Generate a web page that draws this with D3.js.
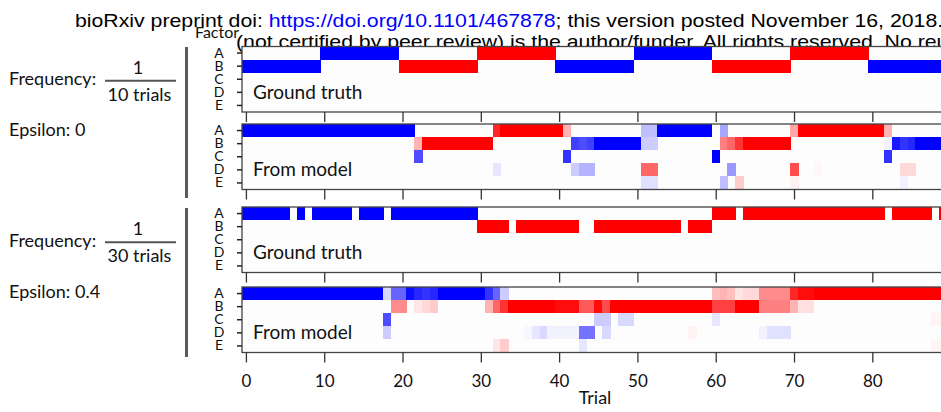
<!DOCTYPE html>
<html>
<head>
<meta charset="utf-8">
<script src="https://cdn.jsdelivr.net/npm/d3@7"></script>
<style>
  body { margin: 0; background: #fff; }
  svg { display: block; }
</style>
</head>
<body>
<svg id="chart" width="941" height="412"></svg>
<script>
// ---- data -------------------------------------------------------------
const factors = ["A", "B", "C", "D", "E"];
const xTickValues = [0, 10, 20, 30, 40, 50, 60, 70, 80, 90];
const trialDomain = [-0.5, 99.5];

// Factor activity runs: [factor, first trial, last trial, value]
// value -1 = full blue, +1 = full red, 0 = empty.
const truthFreq10 = [
  ["B", 0, 9, -1], ["A", 10, 19, -1], ["B", 20, 29, 1], ["A", 30, 39, 1],
  ["B", 40, 49, -1], ["A", 50, 59, -1], ["B", 60, 69, 1], ["A", 70, 79, 1],
  ["B", 80, 89, -1]
];
const modelFreq10 = [
  ["A", 0, 21, -1], ["A", 32, 32, 0.85], ["A", 33, 40, 1], ["A", 41, 41, 0.3],
  ["A", 51, 52, -0.25], ["A", 53, 59, -1], ["A", 61, 61, -0.35],
  ["A", 70, 70, 0.35], ["A", 71, 81, 1], ["A", 82, 82, 0.3],
  ["B", 22, 22, 0.3], ["B", 23, 31, 1], ["B", 42, 42, -0.75], ["B", 43, 43, -0.7],
  ["B", 44, 44, -0.75], ["B", 45, 50, -1], ["B", 51, 52, -0.2],
  ["B", 61, 61, 0.5], ["B", 62, 62, 0.6], ["B", 63, 63, 0.8], ["B", 64, 69, 1],
  ["B", 82, 82, -0.05], ["B", 83, 83, -0.9], ["B", 84, 84, -0.8],
  ["B", 85, 85, -0.85], ["B", 86, 89, -1],
  ["C", 22, 22, -0.7], ["C", 41, 41, -0.8], ["C", 60, 60, -1], ["C", 82, 82, -0.8],
  ["D", 32, 32, -0.1], ["D", 42, 42, -0.2], ["D", 43, 44, -0.3], ["D", 51, 52, 0.6],
  ["D", 62, 62, -0.4], ["D", 70, 70, 0.7], ["D", 73, 73, 0.03], ["D", 84, 85, 0.15],
  ["E", 51, 52, -0.12], ["E", 61, 61, -0.25], ["E", 63, 63, 0.2],
  ["E", 70, 70, 0.05], ["E", 84, 84, -0.05]
];
const truthFreq30 = [
  ["A", 0, 5, -1], ["A", 7, 7, -1], ["A", 9, 13, -1], ["A", 15, 17, -1],
  ["A", 19, 29, -1], ["A", 60, 62, 1], ["A", 64, 81, 1], ["A", 83, 87, 1],
  ["A", 89, 89, 1],
  ["B", 30, 33, 1], ["B", 35, 42, 1], ["B", 45, 55, 1], ["B", 57, 59, 1]
];
const modelFreq30 = [
  ["A", 0, 17, -1], ["A", 18, 18, -0.15], ["A", 19, 20, -0.6], ["A", 21, 21, -0.95],
  ["A", 22, 22, -0.85], ["A", 23, 23, -0.8], ["A", 24, 24, -0.85], ["A", 25, 30, -1],
  ["A", 31, 31, -0.8], ["A", 32, 32, -0.6], ["A", 33, 33, -0.2],
  ["A", 60, 60, 0.25], ["A", 61, 61, 0.3], ["A", 62, 62, 0.25], ["A", 63, 63, 0.1],
  ["A", 64, 65, 0.15], ["A", 66, 69, 0.45], ["A", 70, 70, 0.85], ["A", 71, 72, 0.95],
  ["A", 73, 89, 1],
  ["B", 19, 20, 0.45], ["B", 22, 22, 0.1], ["B", 23, 23, 0.15], ["B", 24, 24, 0.2],
  ["B", 31, 31, 0.3], ["B", 32, 32, 0.6], ["B", 33, 33, 0.8], ["B", 34, 39, 1],
  ["B", 40, 42, 0.95], ["B", 43, 44, 0.65], ["B", 45, 45, 0.95], ["B", 46, 46, 0.7],
  ["B", 47, 59, 1], ["B", 60, 62, 0.75], ["B", 63, 65, 1], ["B", 66, 69, 0.5],
  ["B", 70, 70, 0.3], ["B", 71, 72, 0.12],
  ["C", 18, 18, -0.7], ["C", 45, 46, -0.2], ["C", 48, 49, -0.15], ["C", 60, 60, -0.1],
  ["C", 88, 89, 0.04],
  ["D", 18, 18, -0.2], ["D", 36, 36, -0.03], ["D", 37, 37, -0.1], ["D", 38, 38, -0.15],
  ["D", 39, 42, -0.05], ["D", 43, 44, -0.55], ["D", 46, 46, -0.15], ["D", 57, 57, 0.05],
  ["D", 66, 66, -0.05], ["D", 67, 69, -0.12],
  ["E", 32, 32, 0.1], ["E", 33, 33, 0.2], ["E", 43, 43, -0.1], ["E", 88, 89, 0.04]
];

const panelData = [truthFreq10, modelFreq10, truthFreq30, modelFreq30];
const panelLabels = ["Ground truth", "From model", "Ground truth", "From model"];
const frequencyDenominators = ["10 trials", "30 trials"];
const epsilonLabels = ["Epsilon: 0", "Epsilon: 0.4"];
const headerLink = "https://doi.org/10.1101/467878";

// ---- layout -----------------------------------------------------------
const svg = d3.select("#chart");
const plotLeft = 242, trialStep = 7.83;
const panelTops = [46.5, 124, 207, 287];
const panelHeight = 65.5;

const x = d3.scaleLinear()
  .domain(trialDomain)
  .range([plotLeft, plotLeft + (trialDomain[1] - trialDomain[0]) * trialStep]);
const color = d3.scaleLinear()
  .domain([-1, 0, 1])
  .range(["#0000ff", "#ffffff", "#ff0000"]);

const sansUI = "Lato, 'Open Sans', sans-serif";

// ---- header ---------------------------------------------------------
const header = svg.append("g");
const line1 = header.append("text")
  .attr("font-family", "'Liberation Sans', Arial, sans-serif")
  .attr("font-size", 18)
  .attr("fill", "#000");
line1.append("tspan").text("bioRxiv preprint doi: ");
line1.append("tspan").attr("fill", "#0000ff").text(headerLink);
line1.append("tspan").text("; this version posted November 16, 2018. The copyright holder for this preprint (which was");
// stretch so that "...2018" ends at the page edge
const probe = svg.append("text")
  .attr("font-family", "'Liberation Sans', Arial, sans-serif")
  .attr("font-size", 18)
  .text("bioRxiv preprint doi: " + headerLink + "; this version posted November 16, 2018");
const sx = 863 / probe.node().getComputedTextLength();
probe.remove();
line1.attr("transform", `translate(75,27) scale(${sx},1)`);

header.append("text")
  .attr("font-family", "'Liberation Sans', Arial, sans-serif")
  .attr("font-size", 18)
  .attr("transform", `translate(236,48) scale(${sx},1)`)
  .text("(not certified by peer review) is the author/funder. All rights reserved. No reuse allowed without permission.");

svg.append("text")
  .attr("x", 195).attr("y", 37.5)
  .attr("font-family", sansUI)
  .attr("font-size", 16)
  .attr("fill", "#111")
  .text("Factor");

// ---- panels -----------------------------------------------------------
panelData.forEach((runs, i) => {
  const top = panelTops[i];
  const y = d3.scaleBand().domain(factors).range([top, top + panelHeight]);
  const g = svg.append("g");

  g.append("rect")
    .attr("x", plotLeft).attr("y", top)
    .attr("width", x(trialDomain[1]) - plotLeft).attr("height", panelHeight)
    .attr("fill", "#fdfdfd");

  // expand each run into one cell per trial
  const cells = runs.flatMap(([f, a, b, v]) =>
    d3.range(a, b + 1).map(t => ({ f, t, v })));

  g.selectAll("rect.cell")
    .data(cells)
    .join("rect")
    .attr("class", "cell")
    .attr("x", d => x(d.t - 0.5))
    .attr("y", d => y(d.f))
    .attr("width", x(1) - x(0) + 0.6)
    .attr("height", y.bandwidth())
    .attr("shape-rendering", "crispEdges")
    .attr("fill", d => color(d.v));

  g.append("rect")
    .attr("x", plotLeft).attr("y", top)
    .attr("width", x(trialDomain[1]) - plotLeft).attr("height", panelHeight)
    .attr("fill", "none")
    .attr("stroke", "#444")
    .attr("stroke-width", 1.3);

  g.append("text")
    .attr("x", 253).attr("y", top + 52)
    .attr("font-family", sansUI)
    .attr("font-size", 19)
    .attr("fill", "#111")
    .text(panelLabels[i]);

  // factor axis
  const yAxis = g.append("g")
    .attr("transform", `translate(${plotLeft},0)`)
    .call(d3.axisLeft(y).tickSize(5).tickSizeOuter(0));
  yAxis.select(".domain").remove();
  yAxis.selectAll(".tick line").attr("stroke", "#222").attr("stroke-width", 1.5);
  yAxis.selectAll(".tick text")
    .attr("x", -23).attr("text-anchor", "middle")
    .attr("font-family", sansUI).attr("font-size", 14).attr("fill", "#111");

  // trial axis
  const xAxis = g.append("g")
    .attr("transform", `translate(0,${top + panelHeight})`)
    .call(d3.axisBottom(x).tickValues(xTickValues).tickSize(10).tickSizeOuter(0)
      .tickFormat(i === 3 ? d3.format("d") : () => ""));
  xAxis.select(".domain").remove();
  xAxis.selectAll(".tick line").attr("stroke", "#333").attr("stroke-width", 1.3);
  xAxis.selectAll(".tick text")
    .attr("y", 34).attr("dy", 0)
    .attr("font-family", sansUI).attr("font-size", 17).attr("fill", "#111");
});

svg.append("text")
  .attr("x", 595).attr("y", 404)
  .attr("text-anchor", "middle")
  .attr("font-family", sansUI)
  .attr("font-size", 18)
  .attr("fill", "#111")
  .text("Trial");

// ---- condition labels on the left -----------------------------------
const blockOffsets = [0, 161.5];
blockOffsets.forEach((dy, i) => {
  const g = svg.append("g").attr("transform", `translate(0,${dy})`)
    .attr("font-family", sansUI).attr("font-size", 18).attr("fill", "#111");
  g.append("text").attr("x", 9).attr("y", 85).text("Frequency:");
  g.append("text").attr("x", 138).attr("y", 73.5).attr("text-anchor", "middle").text("1");
  g.append("line")
    .attr("x1", 105).attr("x2", 176).attr("y1", 80.7).attr("y2", 80.7)
    .attr("stroke", "#555").attr("stroke-width", 2);
  g.append("text").attr("x", 139.5).attr("y", 100.5).attr("text-anchor", "middle")
    .text(frequencyDenominators[i]);
  g.append("text").attr("x", 9).attr("y", 136).text(epsilonLabels[i]);
});

// brackets grouping each condition's two panels
[[47, 198], [208, 357]].forEach(([a, b]) => {
  svg.append("line")
    .attr("x1", 186.5).attr("x2", 186.5).attr("y1", a).attr("y2", b)
    .attr("stroke", "#5a5a5a").attr("stroke-width", 3);
});
</script>
</body>
</html>
